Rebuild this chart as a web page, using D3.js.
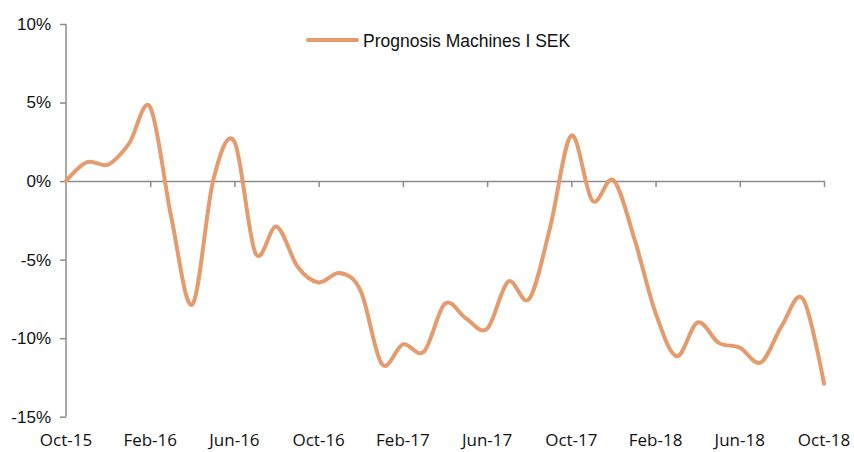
<!DOCTYPE html>
<html>
<head>
<meta charset="utf-8">
<script src="https://d3js.org/d3.v7.min.js"></script>
<style>
body { margin: 0; background: #fff; }
.axis path, .axis line { stroke: #8c8c8c; stroke-width: 1.5; }
.ylab { font-family: "Liberation Sans", Arial, sans-serif; font-size: 17px; fill: #111; }
.xlab { font-family: "Open Sans", sans-serif; font-size: 17px; fill: #111; }
.legend { font-family: "Liberation Sans", Arial, sans-serif; font-size: 17.5px; fill: #111; }
</style>
</head>
<body>
<div id="chart"></div>
<script>

// monthly values, Oct-15 .. Oct-18 (%)
var months = ["Oct-15","Nov-15","Dec-15","Jan-16","Feb-16","Mar-16","Apr-16","May-16","Jun-16","Jul-16","Aug-16","Sep-16",
              "Oct-16","Nov-16","Dec-16","Jan-17","Feb-17","Mar-17","Apr-17","May-17","Jun-17","Jul-17","Aug-17","Sep-17",
              "Oct-17","Nov-17","Dec-17","Jan-18","Feb-18","Mar-18","Apr-18","May-18","Jun-18","Jul-18","Aug-18","Sep-18","Oct-18"];
var values = [0, 1.2, 1.05, 2.4, 4.7, -2.3, -7.85, 0.1, 2.5, -4.6, -2.9, -5.45,
              -6.45, -5.85, -7.0, -11.65, -10.4, -10.85, -7.8, -8.75, -9.4, -6.4, -7.5, -2.9,
              2.9, -1.25, 0.05, -3.7, -8.4, -11.15, -9.0, -10.3, -10.6, -11.55, -9.2, -7.5, -12.9];
var seriesName = "Prognosis Machines I SEK";
var yTicks = [-15, -10, -5, 0, 5, 10];
var xTickIdx = [0, 4, 8, 12, 16, 20, 24, 28, 32, 36];

var width = 854, height = 452;

var svg = d3.select("#chart").append("svg")
  .attr("width", width).attr("height", height);

var x = d3.scaleLinear().domain([0, months.length - 1]).range([66, 824]);
var y = d3.scaleLinear().domain([-15, 10]).range([416.7, 24]);

// y axis
var yAxis = svg.append("g").attr("class", "axis")
  .attr("transform", "translate(" + x(0) + ",0)")
  .call(d3.axisLeft(y).tickValues(yTicks).tickSize(6).tickSizeOuter(0).tickFormat(""));
yAxis.select(".domain").attr("d", "M0," + y(10) + "V" + y(-15));

svg.selectAll("text.ylab").data(yTicks).enter().append("text")
  .attr("class", "ylab")
  .attr("x", 51)
  .attr("y", function (d) { return y(d); })
  .attr("dy", "0.35em")
  .attr("text-anchor", "end")
  .text(function (d) { return d + "%"; });

// x axis along the zero line
var xAxis = svg.append("g").attr("class", "axis")
  .attr("transform", "translate(0," + y(0) + ")")
  .call(d3.axisBottom(x).tickValues(xTickIdx.slice(1)).tickSize(6).tickSizeOuter(0).tickFormat(""));

svg.selectAll("text.xlab").data(xTickIdx).enter().append("text")
  .attr("class", "xlab")
  .attr("x", function (d) { return x(d); })
  .attr("y", 446)
  .attr("text-anchor", "middle")
  .text(function (d) { return months[d]; });

// line
var line = d3.line()
  .x(function (d, i) { return x(i); })
  .y(function (d) { return y(d); })
  .curve(d3.curveCardinal.tension(0));

svg.append("path")
  .datum(values)
  .attr("d", line)
  .attr("fill", "none")
  .attr("stroke", "#e49b6d")
  .attr("stroke-width", 4)
  .attr("stroke-linecap", "round")
  .attr("stroke-linejoin", "round");

// legend
svg.append("line")
  .attr("x1", 308).attr("x2", 357).attr("y1", 40).attr("y2", 40)
  .attr("stroke", "#e49b6d").attr("stroke-width", 4).attr("stroke-linecap", "round");
svg.append("text").attr("class", "legend")
  .attr("x", 363).attr("y", 41).attr("dy", "0.35em")
  .text(seriesName);

</script>
</body>
</html>
